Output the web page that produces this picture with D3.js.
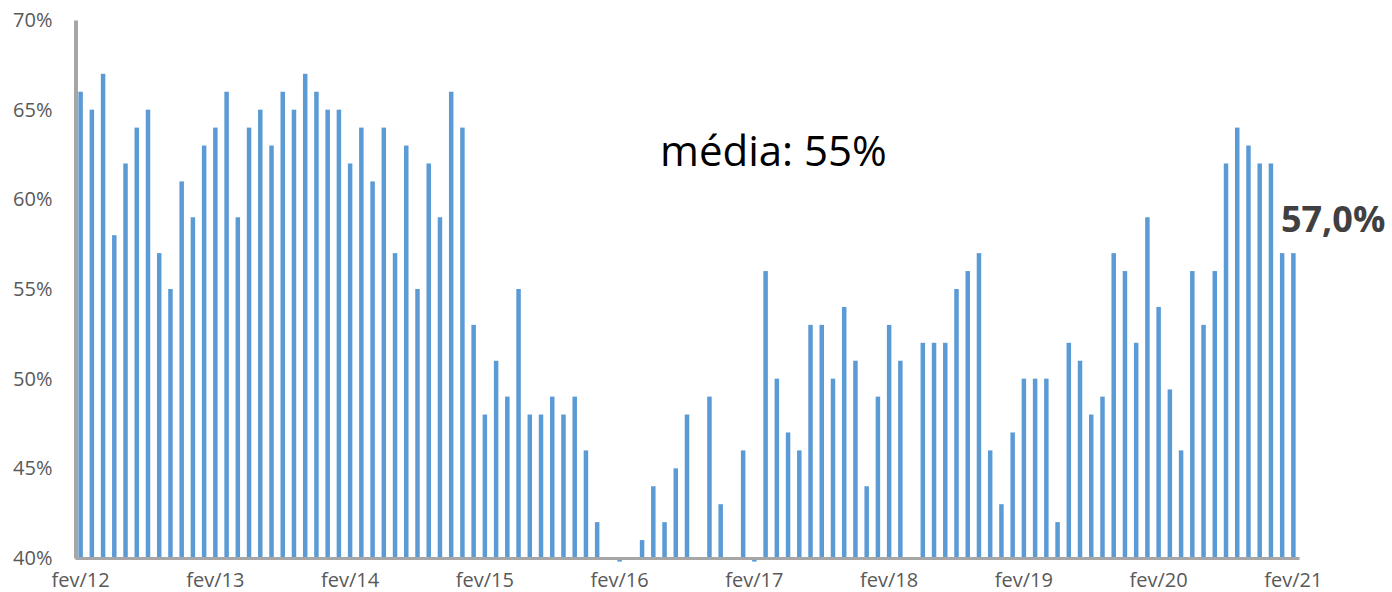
<!DOCTYPE html>
<html>
<head>
<meta charset="utf-8">
<script src="https://cdn.jsdelivr.net/npm/d3@7"></script>
<style>
  html, body { margin: 0; padding: 0; background: #fff; }
  svg { display: block; font-family: "Open Sans", sans-serif; }
</style>
</head>
<body>
<svg id="chart" width="1392" height="592"></svg>
<script>
// valores mensais de fev/12 a fev/21 (%)
const values = [
  66, 65, 67, 58, 62, 64, 65, 57, 55, 61, 59, 63,
  64, 66, 59, 64, 65, 63, 66, 65, 67, 66, 65, 65,
  62, 64, 61, 64, 57, 63, 55, 62, 59, 66, 64, 53,
  48, 51, 49, 55, 48, 48, 49, 48, 49, 46, 42, 40,
  39.8, 40, 41, 44, 42, 45, 48, 40, 49, 43, 40, 46,
  39.8, 56, 50, 47, 46, 53, 53, 50, 54, 51, 44, 49,
  53, 51, 40, 52, 52, 52, 55, 56, 57, 46, 43, 47,
  50, 50, 50, 42, 52, 51, 48, 49, 57, 56, 52, 59,
  54, 49.4, 46, 56, 53, 56, 62, 64, 63, 62, 62, 57,
  57
];
const tickLabels = ['fev/12', 'fev/13', 'fev/14', 'fev/15', 'fev/16', 'fev/17', 'fev/18', 'fev/19', 'fev/20', 'fev/21'];
const yTicks = [40, 45, 50, 55, 60, 65, 70];
const mediaText = 'média: 55%';
const lastLabel = '57,0%';

const svg = d3.select('#chart');

const x = d3.scaleBand()
  .domain(d3.range(values.length))
  .range([75, 1299])
  .paddingInner(0.6)
  .paddingOuter(0.3);

const y = d3.scaleLinear()
  .domain([40, 70])
  .range([558, 20]);

// barras
svg.append('g')
  .attr('fill', '#5b9bd5')
  .selectAll('rect')
  .data(values)
  .join('rect')
  .attr('x', (d, i) => x(i))
  .attr('width', x.bandwidth())
  .attr('y', d => Math.min(y(d), y(40)))
  .attr('height', d => Math.abs(y(40) - y(d)));

// eixo x
const xAxis = svg.append('g')
  .attr('transform', `translate(0,${y(40)})`)
  .call(d3.axisBottom(x)
    .tickValues(d3.range(0, values.length, 12))
    .tickFormat((d, i) => tickLabels[i])
    .tickSize(0)
    .tickPadding(15));
xAxis.attr('font-family', null).attr('font-size', null);
xAxis.select('.domain').attr('stroke', '#a6a6a6').attr('stroke-width', 3);
xAxis.selectAll('text').attr('fill', '#595959').style('font-size', '20px');

// eixo y
const yAxis = svg.append('g')
  .attr('transform', 'translate(75.5,0)')
  .call(d3.axisLeft(y)
    .tickValues(yTicks)
    .tickFormat(d => d + '%')
    .tickSize(0)
    .tickPadding(23));
yAxis.attr('font-family', null).attr('font-size', null);
yAxis.select('.domain').attr('stroke', '#a6a6a6').attr('stroke-width', 4);
yAxis.selectAll('text').attr('fill', '#595959').style('font-size', '20px');

// anotações
svg.append('text')
  .attr('x', 660)
  .attr('y', 166)
  .attr('fill', '#000')
  .style('font-size', '42px')
  .text(mediaText);

svg.append('text')
  .attr('x', x(values.length - 2) + 1)
  .attr('y', y(values[values.length - 1]) - 21)
  .attr('fill', '#404040')
  .style('font-size', '36px')
  .style('font-weight', 'bold')
  .text(lastLabel);
</script>
</body>
</html>
